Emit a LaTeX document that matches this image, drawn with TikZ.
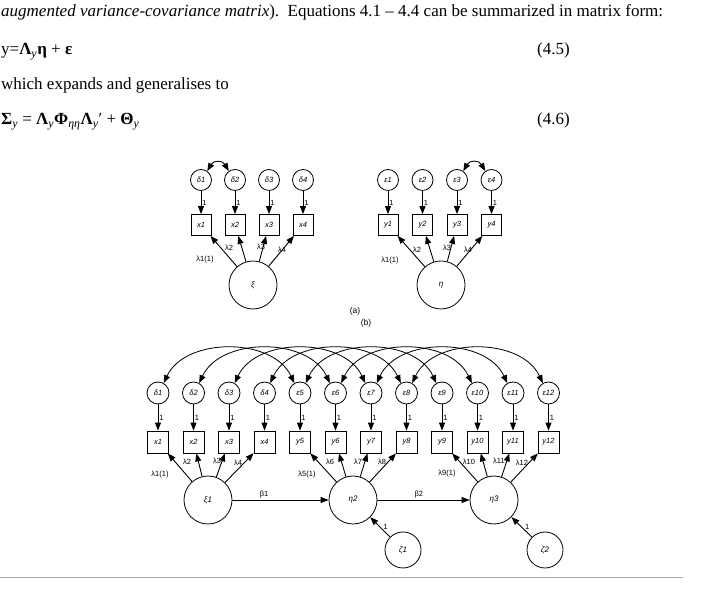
\documentclass[tikz,border=0pt]{standalone}
\usepackage{fontspec}
\setmainfont{Liberation Serif}
\newfontfamily\diafont{Liberation Sans}
\usetikzlibrary{arrows.meta, calc, positioning}

\begin{document}
\begin{tikzpicture}[x=1pt, y=1pt, >={Triangle[length=8pt,width=6pt]},
    txt/.style={anchor=base west, inner sep=0pt, font=\fontsize{17}{20}\selectfont},
    err/.style={circle, draw, thick, minimum size=21pt, inner sep=0pt, font=\diafont\itshape\fontsize{7.5}{8}\selectfont},
    obs/.style={rectangle, draw, thick, minimum width=20pt, minimum height=21pt, inner sep=0pt, font=\diafont\itshape\fontsize{7.5}{8}\selectfont},
    lat/.style={circle, draw, thick, minimum size=48pt, inner sep=0pt, font=\diafont\itshape\fontsize{8}{9}\selectfont},
    dist/.style={circle, draw, thick, minimum size=36pt, inner sep=0pt, font=\diafont\itshape\fontsize{8}{9}\selectfont},
    lab/.style={inner sep=1pt, font=\diafont\fontsize{7.5}{8}\selectfont},
    path/.style={->, line width=0.9pt}]
    \useasboundingbox (0,0) rectangle (708,593);

    % text above the figure
    \node[txt] (t1) at (1,576) {\textit{augmented variance-covariance matrix}).\ \ Equations 4.1 -- 4.4 can be summarized in matrix form:};
    \node[txt] (t2) at (1,538) {y=\textbf{Λ}\textsubscript{\textit{y}}\textbf{η} + \textbf{ε}};
    \node[txt] (n2) at (537,538) {(4.5)};
    \node[txt] (t3) at (1,503) {which expands and generalises to};
    \node[txt] (t4) at (1,468) {\textbf{Σ}\textsubscript{\textit{y}} = \textbf{Λ}\textsubscript{\textit{y}}\textbf{Φ}\textsubscript{\textit{ηη}}\textbf{Λ}\textsubscript{\textit{y}}′ + \textbf{Θ}\textsubscript{\textit{y}}};
    \node[txt] (n4) at (537,468) {(4.6)};

    % (a) exogenous part
    \node[lat] (xi) at (253,308) {ξ};
    \foreach \i in {1,...,4} {
        \node[err] (ad\i) at ({201+34*(\i-1)},413) {δ\i};
        \node[obs] (ax\i) at ({201+34*(\i-1)},368) {x\i};
        \draw[path] (ad\i) -- (ax\i) node[lab, midway, right] {1};
        \draw[path] (xi) -- (ax\i);
    }
    \draw[<->, line width=0.9pt] (ad1.55) to[out=60, in=120, looseness=1.5] (ad2.125);
    \node[lab] (la1) at (205,333) {λ1(1)};
    \node[lab] (la2) at (229,345) {λ2};
    \node[lab] (la3) at (261,346) {λ3};
    \node[lab] (la4) at (282,343) {λ4};

    % (a) endogenous part
    \node[lat] (eta) at (441,308) {η};
    \foreach \i in {1,...,4} {
        \node[err] (ae\i) at ({388+34.5*(\i-1)},413) {ε\i};
        \node[obs] (ay\i) at ({388+34.5*(\i-1)},368) {y\i};
        \draw[path] (ae\i) -- (ay\i) node[lab, midway, right] {1};
        \draw[path] (eta) -- (ay\i);
    }
    \draw[<->, line width=0.9pt] (ae3.55) to[out=60, in=120, looseness=1.5] (ae4.125);
    \node[lab] (lb1) at (390,332) {λ1(1)};
    \node[lab] (lb2) at (417,343) {λ2};
    \node[lab] (lb3) at (447,345) {λ3};
    \node[lab] (lb4) at (468,343) {λ4};

    \node[lab, font=\diafont\fontsize{8.5}{9}\selectfont] (capa) at (355,282) {(a)};
    \node[lab, font=\diafont\fontsize{8.5}{9}\selectfont] (capb) at (366,270) {(b)};

    % (b) full model
    \node[lat] (xi1) at (208,93) {ξ1};
    \node[lat] (eta2) at (353,93) {η2};
    \node[lat] (eta3) at (494,93) {η3};
    \node[dist] (z1) at (403,43) {ζ1};
    \node[dist] (z2) at (545,43) {ζ2};
    \foreach \i/\e/\v in {1/δ1/x1, 2/δ2/x2, 3/δ3/x3, 4/δ4/x4, 5/ε5/y5, 6/ε6/y6,
                         7/ε7/y7, 8/ε8/y8, 9/ε9/y9, 10/ε10/y10, 11/ε11/y11, 12/ε12/y12} {
        \node[err, minimum size=22pt] (be\i) at ({158+35.5*(\i-1)},200) {\e};
        \node[obs, minimum width=21pt, minimum height=22pt] (bv\i) at ({158+35.5*(\i-1)},151) {\v};
        \draw[path] (be\i) -- (bv\i) node[lab, midway, right] {1};
    }
    \foreach \i in {1,...,4} \draw[path] (xi1) -- (bv\i);
    \foreach \i in {5,...,8} \draw[path] (eta2) -- (bv\i);
    \foreach \i in {9,...,12} \draw[path] (eta3) -- (bv\i);
    \foreach \i [evaluate=\i as \j using int(\i+4)] in {1,...,8}
        \draw[<->, line width=0.8pt] (be\i.60) to[out=65, in=115, looseness=1.0] (be\j.120);
    \draw[path] (xi1) -- (eta2) node[lab, pos=0.33, above] {β1};
    \draw[path] (eta2) -- (eta3) node[lab, pos=0.45, above] {β2};
    \draw[path] (z1) -- (eta2) node[lab, midway, right=2pt] {1};
    \draw[path] (z2) -- (eta3) node[lab, midway, right=2pt] {1};
    \node[lab] (lc1) at (160,118) {λ1(1)};
    \node[lab] (lc2) at (187,131) {λ2};
    \node[lab] (lc3) at (217,132) {λ3};
    \node[lab] (lc4) at (238,130) {λ4};
    \node[lab] (lc5) at (307,118) {λ5(1)};
    \node[lab] (lc6) at (330,131) {λ6};
    \node[lab] (lc7) at (358,131) {λ7};
    \node[lab] (lc8) at (382,131) {λ8};
    \node[lab] (lc9) at (447,119) {λ9(1)};
    \node[lab] (lc10) at (469,131) {λ10};
    \node[lab] (lc11) at (499,132) {λ11};
    \node[lab] (lc12) at (522,130) {λ12};

    \draw[gray!70, line width=0.8pt] (0,16) -- (683,16);
\end{tikzpicture}
\end{document}
